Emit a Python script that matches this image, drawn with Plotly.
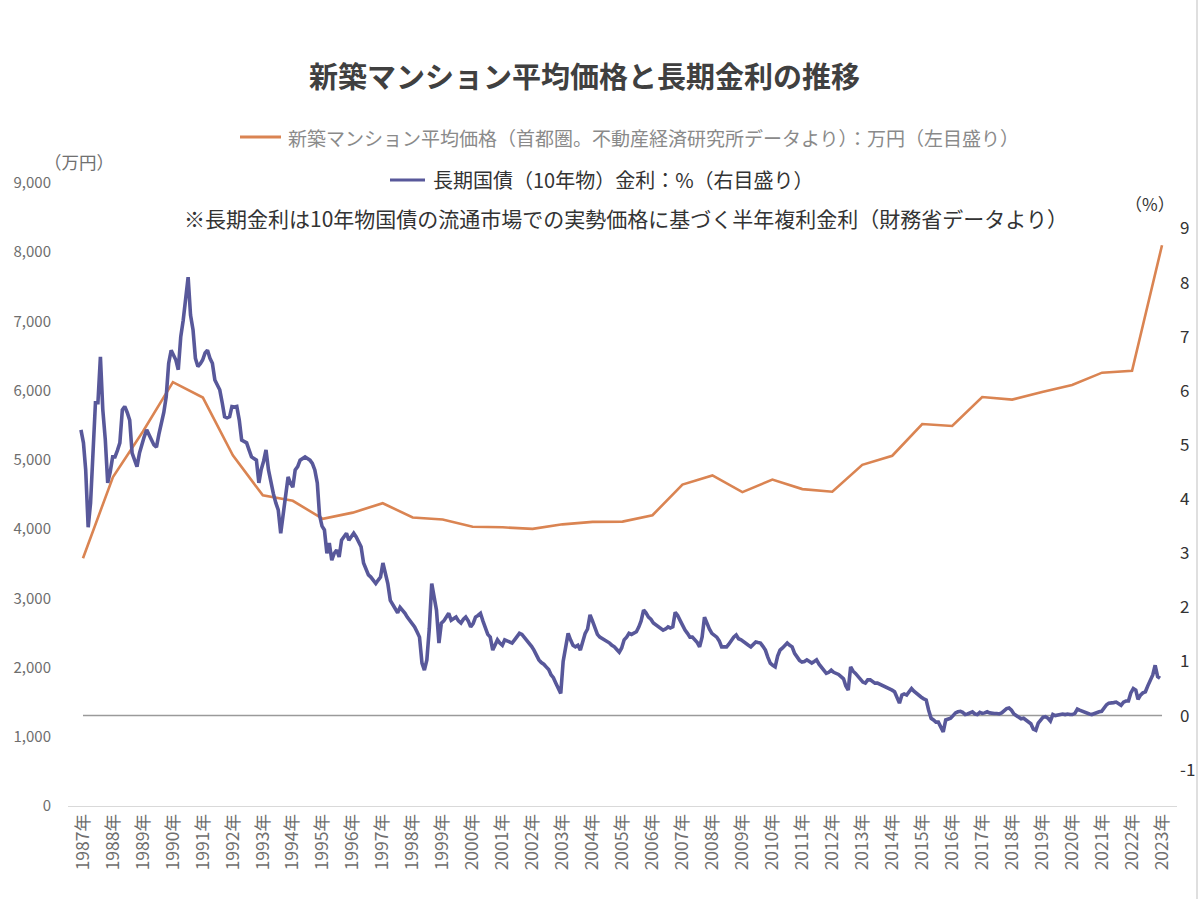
import plotly.graph_objects as go
import pandas as pd

# ---------------- data ----------------
years = [1987, 1988, 1989, 1990, 1991, 1992, 1993, 1994, 1995, 1996, 1997, 1998, 1999,
         2000, 2001, 2002, 2003, 2004, 2005, 2006, 2007, 2008, 2009, 2010, 2011, 2012,
         2013, 2014, 2015, 2016, 2017, 2018, 2019, 2020, 2021, 2022, 2023]
year_labels = [f"{y}年" for y in years]

# 新築マンション平均価格（首都圏, 万円）
condo_price = [3579, 4753, 5411, 6123, 5900, 5066, 4488, 4409, 4148, 4238, 4374, 4168, 4138,
               4034, 4026, 4003, 4069, 4104, 4108, 4200, 4644, 4775, 4535, 4716, 4578, 4540,
               4929, 5060, 5518, 5490, 5908, 5871, 5980, 6083, 6260, 6288, 8101]

# 長期国債（10年物）金利 (%), monthly Jan 1987 - Dec 2023
jgb10y = [
    5.28, 5.04, 4.54, 3.48, 3.93, 4.85, 5.78, 5.78, 6.63, 5.65, 5.10, 4.30,   # 1987
    4.50, 4.78, 4.78, 4.90, 5.04, 5.65, 5.71, 5.60, 5.46, 4.85, 4.70, 4.60,   # 1988
    4.85, 5.04, 5.15, 5.28, 5.20, 5.09, 5.00, 4.96, 5.20, 5.40, 5.60, 5.89,   # 1989
    6.51, 6.75, 6.65, 6.57, 6.39, 7.00, 7.30, 7.68, 8.10, 7.40, 7.13, 6.60,   # 1990
    6.45, 6.50, 6.57, 6.70, 6.75, 6.60, 6.51, 6.20, 6.10, 6.02, 5.78, 5.52,   # 1991
    5.50, 5.52, 5.71, 5.70, 5.71, 5.46, 5.09, 5.06, 5.04, 4.91, 4.78, 4.75,   # 1992
    4.72, 4.30, 4.54, 4.70, 4.91, 4.54, 4.30, 4.10, 3.93, 3.80, 3.37, 3.70,   # 1993
    4.11, 4.41, 4.30, 4.22, 4.54, 4.60, 4.72, 4.75, 4.78, 4.75, 4.72, 4.66,   # 1994
    4.54, 4.30, 3.70, 3.50, 3.43, 3.00, 3.19, 2.87, 3.00, 3.06, 2.93, 3.24,   # 1995
    3.30, 3.37, 3.24, 3.30, 3.37, 3.30, 3.20, 3.12, 2.82, 2.69, 2.60, 2.56,   # 1996
    2.50, 2.44, 2.50, 2.56, 2.82, 2.60, 2.44, 2.13, 2.05, 1.95, 1.90, 2.00,   # 1997
    1.95, 1.89, 1.82, 1.76, 1.70, 1.64, 1.55, 1.45, 0.97, 0.84, 1.03, 1.60,   # 1998
    2.44, 2.20, 1.95, 1.34, 1.71, 1.75, 1.82, 1.89, 1.76, 1.80, 1.82, 1.75,   # 1999
    1.71, 1.78, 1.82, 1.75, 1.64, 1.70, 1.82, 1.85, 1.89, 1.75, 1.64, 1.50,   # 2000
    1.45, 1.21, 1.30, 1.40, 1.34, 1.30, 1.40, 1.38, 1.36, 1.34, 1.40, 1.45,   # 2001
    1.52, 1.50, 1.45, 1.40, 1.34, 1.28, 1.21, 1.12, 1.03, 0.98, 0.95, 0.90,   # 2002
    0.85, 0.75, 0.70, 0.60, 0.50, 0.41, 1.00, 1.30, 1.52, 1.40, 1.30, 1.27,   # 2003
    1.30, 1.21, 1.35, 1.52, 1.60, 1.86, 1.75, 1.64, 1.50, 1.45, 1.42, 1.40,   # 2004
    1.38, 1.34, 1.30, 1.27, 1.22, 1.17, 1.25, 1.40, 1.45, 1.52, 1.50, 1.52,   # 2005
    1.55, 1.64, 1.75, 1.95, 1.90, 1.82, 1.78, 1.71, 1.68, 1.64, 1.62, 1.58,   # 2006
    1.60, 1.64, 1.62, 1.64, 1.91, 1.85, 1.76, 1.65, 1.58, 1.52, 1.45, 1.45,   # 2007
    1.40, 1.35, 1.27, 1.45, 1.82, 1.70, 1.60, 1.52, 1.48, 1.45, 1.38, 1.27,   # 2008
    1.27, 1.27, 1.32, 1.40, 1.45, 1.49, 1.42, 1.40, 1.36, 1.34, 1.30, 1.27,   # 2009
    1.32, 1.36, 1.35, 1.34, 1.28, 1.21, 1.08, 0.97, 0.93, 0.90, 1.10, 1.21,   # 2010
    1.25, 1.30, 1.34, 1.30, 1.27, 1.15, 1.08, 1.02, 0.99, 1.00, 1.03, 1.00,   # 2011
    0.97, 1.00, 1.03, 0.95, 0.90, 0.84, 0.78, 0.80, 0.84, 0.80, 0.78, 0.76,   # 2012
    0.72, 0.68, 0.55, 0.47, 0.90, 0.82, 0.78, 0.72, 0.66, 0.62, 0.60, 0.66,   # 2013
    0.66, 0.62, 0.60, 0.60, 0.58, 0.56, 0.54, 0.52, 0.50, 0.47, 0.44, 0.35,   # 2014
    0.23, 0.38, 0.40, 0.38, 0.45, 0.50, 0.45, 0.41, 0.36, 0.34, 0.31, 0.29,   # 2015
    0.10, -0.05, -0.08, -0.12, -0.12, -0.20, -0.30, -0.08, -0.06, -0.05, 0.00, 0.05,  # 2016
    0.07, 0.08, 0.06, 0.02, 0.03, 0.05, 0.07, 0.03, 0.02, 0.06, 0.04, 0.05,   # 2017
    0.07, 0.05, 0.04, 0.04, 0.04, 0.03, 0.05, 0.10, 0.13, 0.14, 0.10, 0.03,   # 2018
    0.00, -0.03, -0.06, -0.05, -0.08, -0.12, -0.15, -0.25, -0.27, -0.14, -0.08, -0.03,  # 2019
    -0.02, -0.05, -0.10, 0.02, 0.00, 0.01, 0.02, 0.03, 0.02, 0.03, 0.02, 0.02,  # 2020
    0.04, 0.12, 0.10, 0.08, 0.07, 0.05, 0.03, 0.02, 0.04, 0.06, 0.07, 0.08,   # 2021
    0.15, 0.20, 0.23, 0.23, 0.24, 0.25, 0.22, 0.19, 0.25, 0.27, 0.27, 0.42,   # 2022
    0.50, 0.47, 0.30, 0.38, 0.42, 0.44, 0.55, 0.66, 0.75, 0.93, 0.72, 0.69,   # 2023
]
jgb_dates = pd.date_range("1987-01-01", periods=len(jgb10y), freq="MS")

left_ticks = [0, 1000, 2000, 3000, 4000, 5000, 6000, 7000, 8000, 9000]
right_ticks = [-1, 0, 1, 2, 3, 4, 5, 6, 7, 8, 9]
right_tick_text = ["-1", "0", "1", "2", "3", "4", "5", "6", "7", "8", "9"]

# ---------------- style ----------------
FONT = "Noto Sans CJK JP"
ORANGE = "#DA8452"
NAVY = "#58589A"

# plot area in pixels: x 68..1177, y 183..806
PL, PR, PT, PB = 68, 1177, 183, 806
def px(x):
    return (x - PL) / (PR - PL)
def py(y):
    return (PB - y) / (PB - PT)

fig = go.Figure()

fig.add_trace(go.Scatter(
    x=year_labels, y=condo_price, mode="lines",
    line=dict(color=ORANGE, width=2.6),
    name="新築マンション平均価格", xaxis="x", yaxis="y", showlegend=False,
))
fig.add_trace(go.Scatter(
    x=jgb_dates, y=jgb10y, mode="lines",
    line=dict(color=NAVY, width=3.6),
    name="長期国債（10年物）金利", xaxis="x2", yaxis="y2", showlegend=False,
))

fig.update_layout(
    width=1200, height=899,
    template="none",
    paper_bgcolor="white", plot_bgcolor="white",
    margin=dict(l=PL, r=1200 - PR, t=PT, b=899 - PB, autoexpand=False),
    font=dict(family=FONT, color="#404040"),
    showlegend=False,
    xaxis=dict(
        type="category", range=[-0.5, len(years) - 0.5],
        showgrid=False, zeroline=False, showline=True, linecolor="#d9d9d9", linewidth=1,
        ticks="", tickangle=-90, tickfont=dict(size=17.5, color="#6e6e6e", family=FONT),
        automargin=False,
    ),
    xaxis2=dict(
        type="date", overlaying="x", range=["1986-07-23", "2024-06-30"],
        visible=False, showgrid=False, zeroline=False,
    ),
    yaxis=dict(
        range=[0, 9000], tickvals=left_ticks, tickformat=",",
        showgrid=False, zeroline=False, showline=False, ticks="",
        tickfont=dict(size=15, color="#6e6e6e", family=FONT),
        ticklabelstandoff=16, automargin=False,
    ),
    yaxis2=dict(
        overlaying="y", side="right", range=[-1.67, 9.84],
        tickvals=right_ticks, ticktext=right_tick_text,
        showgrid=False, zeroline=False, showline=False, ticks="",
        tickfont=dict(size=17, color="#333333", family=FONT),
        ticklabelstandoff=2, automargin=False,
    ),
)

# zero reference line on the rate axis
fig.add_shape(type="line", xref="x", yref="y2", x0=0, x1=len(years) - 1, y0=0, y1=0,
              line=dict(color="#9a9a9a", width=1.5), layer="below")

# legend swatches
fig.add_shape(type="line", xref="paper", yref="paper", x0=px(240), x1=px(281),
              y0=py(137), y1=py(137), line=dict(color=ORANGE, width=3))
fig.add_shape(type="line", xref="paper", yref="paper", x0=px(390), x1=px(425),
              y0=py(180), y1=py(180), line=dict(color=NAVY, width=3))
# image right border
fig.add_shape(type="line", xref="paper", yref="paper", x0=px(1197), x1=px(1197),
              y0=py(0), y1=py(899), line=dict(color="#d4d4d4", width=1.5))

annots = [
    dict(text="<b>新築マンション平均価格と長期金利の推移</b>", x=px(584), y=py(75),
         xanchor="center", size=29, color="#404040"),
    dict(text="新築マンション平均価格（首都圏。不動産経済研究所データより）：万円（左目盛り）",
         x=px(286), y=py(137), xanchor="left", size=19, color="#8a8a8a"),
    dict(text="長期国債（10年物）金利：%（右目盛り）", x=px(431), y=py(180),
         xanchor="left", size=20, color="#333333"),
    dict(text="※長期金利は10年物国債の流通市場での実勢価格に基づく半年複利金利（財務省データより）",
         x=px(626), y=py(218), xanchor="center", size=21, color="#333333"),
    dict(text="（万円）", x=px(79), y=py(161), xanchor="center", size=17.5, color="#707070"),
    dict(text="（%）", x=px(1150), y=py(203), xanchor="center", size=17, color="#333333"),
]
for a in annots:
    fig.add_annotation(text=a["text"], x=a["x"], y=a["y"], xref="paper", yref="paper",
                       xanchor=a["xanchor"], yanchor="middle", showarrow=False,
                       font=dict(family=FONT, size=a["size"], color=a["color"]))

fig.write_html("out.html")
